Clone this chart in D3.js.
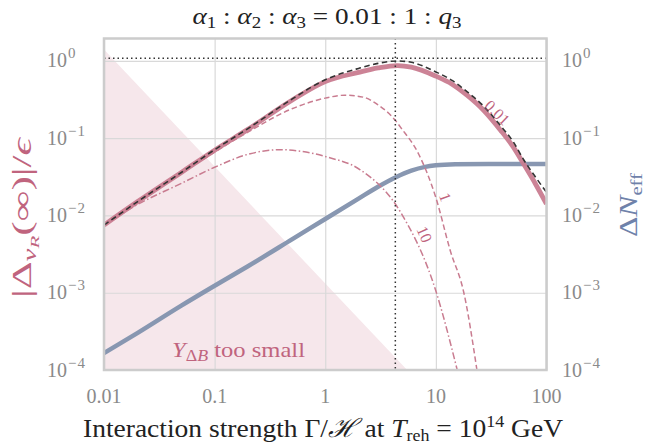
<!DOCTYPE html>
<html>
<head>
<meta charset="utf-8">
<script src="https://cdn.jsdelivr.net/npm/d3@7"></script>
<style>
  body { margin: 0; background: #fff; }
  svg { display: block; }
  text { font-family: "Liberation Serif", "DejaVu Serif", serif; }
</style>
</head>
<body>
<div class="chart"></div>
<script>
// tick values / labels
const xTicks = [0.01, 0.1, 1, 10, 100];
const xTickLabels = ["0.01", "0.1", "1", "10", "100"];
const yTicks = [1, 1e-1, 1e-2, 1e-3, 1e-4];
const yTickExps = ["0", "\u22121", "\u22122", "\u22123", "\u22124"];

// thick pink curve, q3 = 0.01
const mainX = [0.01, 0.02, 0.05, 0.1, 0.2, 0.5, 1, 2, 3, 4.5, 6, 10, 14, 19.1, 27, 38.4, 50, 62, 80, 100];
const mainY = [0.0075, 0.015, 0.036, 0.07, 0.13, 0.31, 0.54, 0.71, 0.81, 0.87, 0.83, 0.635, 0.5, 0.36, 0.23, 0.127, 0.077, 0.0466, 0.0252, 0.0141];

// black dashed reference curve
const refX = [0.01, 0.02, 0.05, 0.1, 0.2, 0.5, 1, 2, 3, 4.5, 6, 10, 14, 19.1, 27, 38.4, 50, 62, 80, 100];
const refY = [0.0075, 0.015, 0.036, 0.071, 0.133, 0.32, 0.57, 0.8, 0.93, 1.0, 0.96, 0.72, 0.56, 0.4, 0.26, 0.145, 0.09, 0.053, 0.031, 0.02];

// dashed pink, q3 = 1
const q1X = [0.01, 0.02, 0.05, 0.1, 0.2, 0.5, 1, 1.5, 2.2, 3, 4.3, 4.8, 7, 10, 13.5, 17.9, 23.5];
const q1Y = [0.0075, 0.015, 0.035, 0.066, 0.12, 0.24, 0.33, 0.36, 0.34, 0.27, 0.17, 0.138, 0.062, 0.017, 0.0035, 0.001, 0.0001];

// dash-dot pink, q3 = 10
const q10X = [0.01, 0.02, 0.05, 0.1, 0.21, 0.39, 1.04, 2.07, 4.8, 9.9, 15.6];
const q10Y = [0.0075, 0.0138, 0.026, 0.042, 0.063, 0.071, 0.057, 0.039, 0.011, 0.0011, 0.0001];

// blue curve, Delta N_eff (right axis)
const neffX = [0.01, 0.02, 0.05, 0.1, 0.2, 0.5, 1, 2, 3, 4.3, 6, 8, 10, 15, 30, 100];
const neffY = [0.000165, 0.0003, 0.00068, 0.00123, 0.0022, 0.0049, 0.009, 0.0165, 0.0235, 0.031, 0.038, 0.0425, 0.0445, 0.046, 0.0465, 0.0465];

// shaded "too small" region
const shadeX = [0.01, 0.01, 5.5];
const shadeY = [0.0001, 1.4, 0.0001];

// dotted guide lines
const guideX = 4.3;
const guideY = 1.08;

const width = 645, height = 444;
const plot = { left: 104, right: 546.5, top: 38.5, bottom: 370 };

const pink = "#c97c90";
const pinkText = "#c0647e";
const blue = "#8897b1";
const blueText = "#6f82aa";
const tickCol = "#8a8a8a";

const svg = d3.select('.chart').append('svg')
    .attr('width', width)
    .attr('height', height);

const x = d3.scaleLog().domain([0.01, 100]).range([plot.left, plot.right]);
const y = d3.scaleLog().domain([1e-4, 1.95]).range([plot.bottom, plot.top]);

svg.append('defs').append('clipPath').attr('id', 'clip')
    .append('rect')
    .attr('x', plot.left).attr('y', plot.top)
    .attr('width', plot.right - plot.left).attr('height', plot.bottom - plot.top);

// shaded area
const zip = (xs, ys) => xs.map((v, i) => [v, ys[i]]);
svg.append('path')
    .datum(zip(shadeX, shadeY))
    .attr('fill', '#f6e7eb')
    .attr('d', d3.line().x(d => x(d[0])).y(d => y(d[1])));

// grid
svg.append('g')
    .attr('transform', `translate(0,${plot.bottom})`)
    .call(d3.axisBottom(x).tickValues(xTicks).tickSize(-(plot.bottom - plot.top)).tickFormat(''))
    .call(g => g.select('.domain').remove())
    .call(g => g.selectAll('line').attr('stroke', '#d9d9d9').attr('stroke-width', 1.2));
svg.append('g')
    .attr('transform', `translate(${plot.left},0)`)
    .call(d3.axisLeft(y).tickValues(yTicks).tickSize(-(plot.right - plot.left)).tickFormat(''))
    .call(g => g.select('.domain').remove())
    .call(g => g.selectAll('line').attr('stroke', '#d9d9d9').attr('stroke-width', 1.2));

const line = d3.line()
    .x(d => x(d[0]))
    .y(d => y(d[1]))
    .curve(d3.curveMonotoneX);

const curves = svg.append('g').attr('clip-path', 'url(#clip)');

curves.append('path').datum(zip(neffX, neffY))
    .attr('fill', 'none').attr('stroke', blue).attr('stroke-width', 4.5)
    .attr('d', line);

curves.append('path').datum(zip(mainX, mainY))
    .attr('fill', 'none').attr('stroke', pink).attr('stroke-width', 4.8)
    .attr('opacity', 0.95)
    .attr('d', line);

curves.append('path').datum(zip(q1X, q1Y))
    .attr('fill', 'none').attr('stroke', pink).attr('stroke-width', 1.5)
    .attr('stroke-dasharray', '5.5,3')
    .attr('d', line);

curves.append('path').datum(zip(q10X, q10Y))
    .attr('fill', 'none').attr('stroke', pink).attr('stroke-width', 1.5)
    .attr('stroke-dasharray', '7,2.5,1.5,2.5')
    .attr('d', line);

curves.append('path').datum(zip(refX, refY))
    .attr('fill', 'none').attr('stroke', '#333').attr('stroke-width', 1.6)
    .attr('stroke-dasharray', '5.5,3.5')
    .attr('d', line);

// dotted guides
curves.append('line')
    .attr('x1', x(0.01)).attr('x2', x(100))
    .attr('y1', y(guideY)).attr('y2', y(guideY))
    .attr('stroke', '#333').attr('stroke-width', 1.5).attr('stroke-dasharray', '1.5,3');
curves.append('line')
    .attr('x1', x(guideX)).attr('x2', x(guideX))
    .attr('y1', plot.top).attr('y2', plot.bottom)
    .attr('stroke', '#333').attr('stroke-width', 1.5).attr('stroke-dasharray', '1.5,3');

// frame
svg.append('rect')
    .attr('x', plot.left).attr('y', plot.top)
    .attr('width', plot.right - plot.left).attr('height', plot.bottom - plot.top)
    .attr('fill', 'none').attr('stroke', '#cccccc').attr('stroke-width', 2.5);

// curve labels
const curveLabels = [
    { text: '0.01', at: [36, 0.215], rot: 44 },
    { text: '1', at: [12.2, 0.0173], rot: 70 },
    { text: '10', at: [7.9, 0.0057], rot: 66 }
];
curveLabels.forEach(d => {
    svg.append('text')
        .attr('transform', `translate(${x(d.at[0])},${y(d.at[1])}) rotate(${d.rot})`)
        .attr('text-anchor', 'middle').attr('dy', '0.35em')
        .attr('font-size', 16).attr('fill', pinkText)
        .text(d.text);
});

// x tick labels
svg.append('g').selectAll('text').data(xTicks).join('text')
    .attr('x', d => x(d)).attr('y', 403)
    .attr('text-anchor', 'middle')
    .attr('font-size', 20).attr('fill', tickCol)
    .text((d, i) => xTickLabels[i]);

// y tick labels, both sides
function powLabel(g, xPos, yPos, exp) {
    const t = g.append('text').attr('x', xPos).attr('y', yPos + 6.5)
        .attr('font-size', 20).attr('fill', tickCol);
    t.append('tspan').text('10');
    t.append('tspan').attr('dx', 1).attr('dy', -9).attr('font-size', 15)
        .attr('letter-spacing', 1).text(exp);
}
const yl = svg.append('g');
yTicks.forEach((v, i) => {
    powLabel(yl, 47, y(v), yTickExps[i]);
    powLabel(yl, 562, y(v), yTickExps[i]);
});

// title
const title = svg.append('text')
    .attr('x', 327).attr('y', 24)
    .attr('text-anchor', 'middle').attr('font-size', 23).attr('fill', '#222')
    .attr('textLength', 269).attr('lengthAdjust', 'spacingAndGlyphs');
[['α', 'i'], ['1', 's'], [' : ', 'n'], ['α', 'i'], ['2', 's'], [' : ', 'n'], ['α', 'i'], ['3', 's'],
 [' = 0.01 : 1 : ', 'n'], ['q', 'i'], ['3', 's']].forEach(([s, k], i, arr) => {
    const ts = title.append('tspan').text(s);
    if (k === 'i') ts.attr('font-style', 'italic');
    if (k === 's') ts.attr('font-size', 16).attr('dy', 4);
    if (i > 0 && arr[i - 1][1] === 's') ts.attr('dy', -4);
});

// x axis label
const xl = svg.append('text')
    .attr('x', 323).attr('y', 437)
    .attr('text-anchor', 'middle').attr('font-size', 26).attr('fill', '#222')
    .attr('textLength', 480).attr('lengthAdjust', 'spacingAndGlyphs');
xl.append('tspan').text('Interaction strength Γ/');
xl.append('tspan').attr('font-style', 'italic').text('ℋ');
xl.append('tspan').text(' at ');
xl.append('tspan').attr('font-style', 'italic').text('T');
xl.append('tspan').attr('font-size', 17).attr('dy', 4).text('reh');
xl.append('tspan').attr('dy', -4).text(' = 10');
xl.append('tspan').attr('font-size', 17).attr('dy', -10).text('14');
xl.append('tspan').attr('dy', 10).text(' GeV');

// left axis label
const lyl = svg.append('text')
    .attr('transform', 'translate(31,218) rotate(-90)')
    .attr('text-anchor', 'middle').attr('font-size', 27).attr('fill', pinkText)
    .attr('textLength', 160).attr('lengthAdjust', 'spacingAndGlyphs');
lyl.append('tspan').text('|Δ');
lyl.append('tspan').attr('font-size', 18).attr('font-style', 'italic').attr('dy', 5).text('ν');
lyl.append('tspan').attr('font-size', 13).attr('font-style', 'italic').attr('dy', 3).text('R');
lyl.append('tspan').attr('dy', -8).text('(∞)|/');
lyl.append('tspan').attr('font-style', 'italic').text('ϵ');

// right axis label
const ryl = svg.append('text')
    .attr('transform', 'translate(637,205) rotate(-90)')
    .attr('text-anchor', 'middle').attr('font-size', 26).attr('fill', blueText)
    .attr('textLength', 64).attr('lengthAdjust', 'spacingAndGlyphs');
ryl.append('tspan').text('Δ');
ryl.append('tspan').attr('font-style', 'italic').text('N');
ryl.append('tspan').attr('font-size', 17).attr('dy', 5).text('eff');

// region label
const rl = svg.append('text')
    .attr('x', 172).attr('y', 357)
    .attr('font-size', 22).attr('fill', pinkText)
    .attr('textLength', 133).attr('lengthAdjust', 'spacingAndGlyphs');
rl.append('tspan').attr('font-style', 'italic').text('Y');
rl.append('tspan').attr('font-size', 16).attr('dy', 4).text('Δ');
rl.append('tspan').attr('font-size', 16).attr('font-style', 'italic').text('B');
rl.append('tspan').attr('dy', -4).text('  too small');
</script>
</body>
</html>
